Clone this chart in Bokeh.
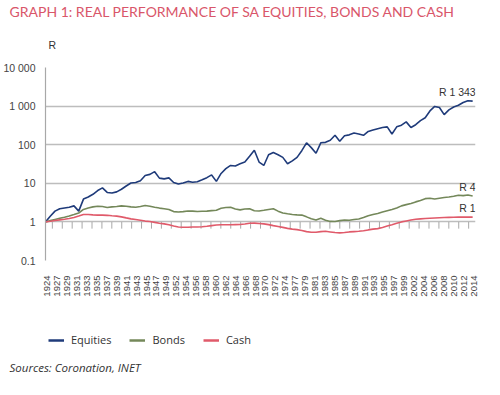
import math
from bokeh.plotting import figure
from bokeh.layouts import column
from bokeh.models import (Range1d, FixedTicker, Label, Legend, LegendItem, Title)
from bokeh.embed import file_html
from bokeh.resources import INLINE

years = list(range(1924, 2015))

equities = [1.0, 1.4, 1.9, 2.2, 2.3, 2.4, 2.6, 1.9, 3.9, 4.4,
            5.2, 6.5, 7.6, 5.8, 5.6, 6.0, 7.0, 8.5, 10.2, 10.5,
            11.7, 16.0, 17.0, 20.0, 13.6, 13.0, 13.8, 10.5, 9.6, 10.2,
            11.2, 10.6, 11.0, 12.4, 14.0, 16.5, 11.2, 18.0, 24.0, 29.0,
            28.0, 32.0, 35.5, 50.0, 72.0, 35.5, 29.0, 55.0, 63.0, 55.0,
            47.0, 32.0, 38.0, 47.0, 70.0, 112, 84, 60, 112, 115,
            130, 175, 123, 170, 180, 200, 190, 175, 220, 240,
            260, 280, 290, 190, 290, 320, 390, 280, 330, 420,
            500, 750, 980, 920, 600, 800, 950, 1050, 1240, 1380,
            1343]

bonds = [1.0, 1.08, 1.16, 1.24, 1.32, 1.42, 1.55, 1.7, 2.1, 2.3,
         2.45, 2.55, 2.5, 2.37, 2.45, 2.5, 2.6, 2.55, 2.45, 2.4,
         2.5, 2.66, 2.55, 2.4, 2.28, 2.2, 2.1, 1.85, 1.8, 1.85,
         1.92, 1.9, 1.86, 1.88, 1.9, 1.96, 2.0, 2.25, 2.35, 2.4,
         2.15, 2.05, 2.15, 2.2, 1.95, 1.92, 2.0, 2.1, 2.2, 1.9,
         1.7, 1.62, 1.55, 1.52, 1.5, 1.35, 1.2, 1.12, 1.24, 1.1,
         1.03, 1.02, 1.08, 1.12, 1.1, 1.15, 1.19, 1.3, 1.45, 1.55,
         1.65, 1.8, 1.95, 2.1, 2.3, 2.6, 2.8, 3.0, 3.3, 3.6,
         4.0, 4.1, 3.9, 4.1, 4.3, 4.4, 4.6, 4.9, 4.8, 5.0,
         4.7]

cash = [1.0, 1.04, 1.09, 1.13, 1.17, 1.22, 1.3, 1.42, 1.56, 1.55,
        1.52, 1.5, 1.5, 1.48, 1.44, 1.41, 1.35, 1.27, 1.2, 1.15,
        1.1, 1.05, 1.02, 0.97, 0.92, 0.89, 0.84, 0.78, 0.74, 0.73,
        0.73, 0.74, 0.74, 0.75, 0.77, 0.8, 0.83, 0.84, 0.84, 0.84,
        0.85, 0.86, 0.88, 0.92, 0.93, 0.91, 0.89, 0.85, 0.8, 0.76,
        0.72, 0.68, 0.65, 0.63, 0.6, 0.56, 0.54, 0.54, 0.56, 0.57,
        0.55, 0.53, 0.52, 0.53, 0.55, 0.56, 0.57, 0.59, 0.62, 0.65,
        0.67, 0.72, 0.78, 0.84, 0.92, 1.0, 1.06, 1.12, 1.17, 1.2,
        1.22, 1.24, 1.26, 1.28, 1.3, 1.31, 1.32, 1.33, 1.33, 1.33,
        1.33]

x_labels = ["1924", "1927", "1929", "1931", "1933", "1935", "1937", "1939", "1941", "1943",
            "1945", "1947", "1949", "1952", "1954", "1956", "1958", "1960", "1962", "1964",
            "1966", "1968", "1970", "1972", "1974", "1977", "1979", "1981", "1983", "1985",
            "1987", "1989", "1991", "1993", "1995", "1997", "1999", "2002", "2004", "2006",
            "2008", "2010", "2012", "2014"]

y_ticks = [0.1, 1, 10, 100, 1000, 10000]
y_labels = ["0.1", "1", "10", "100", "1 000", "10 000"]

series_names = ["Equities", "Bonds", "Cash"]
end_labels = ["R 1 343", "R 4", "R 1"]
colors = ["#1f3b7a", "#74885a", "#e05a6a"]

TITLE = "GRAPH 1: REAL PERFORMANCE OF SA EQUITIES, BONDS AND CASH"
UNIT = "R"
SOURCE = "Sources: Coronation, INET"
TXT_FONT = "Lato"
LEG_FONT = "Open Sans"
NUM_FONT = "Liberation Sans"

series = [equities, bonds, cash]

# ---------------- main chart ----------------
p = figure(width=484, height=320, y_axis_type="log",
           x_range=Range1d(1924, 2014.6), y_range=Range1d(0.1, 10000),
           output_backend="svg", toolbar_location=None,
           min_border_left=36, min_border_right=9, min_border_top=60, min_border_bottom=60)
p.outline_line_color = None
p.background_fill_color = "white"
p.border_fill_color = "white"

p.title.text = TITLE
p.title.align = "left"
p.title.offset = -36
p.title.standoff = 0
p.title.text_font = TXT_FONT
p.title.text_font_size = "14px"
p.title.text_font_style = "normal"
p.title.text_color = "#d9566a"

p.add_layout(Title(text=UNIT, align="left", offset=3, standoff=34,
                   text_font=NUM_FONT, text_font_size="10.5px",
                   text_font_style="normal", text_color="#333333"), "above")

n = len(x_labels)
lo, hi = 1924.4, 2014.2
step = (hi - lo) / (n - 1)
label_pos = [round(lo + i * step, 4) for i in range(n)]
p.xaxis.ticker = FixedTicker(ticks=label_pos, minor_ticks=[])
p.xaxis.major_label_overrides = {pos: lab for pos, lab in zip(label_pos, x_labels)}
p.xaxis.major_label_orientation = math.pi / 2
p.xaxis.major_tick_line_color = None
p.xaxis.major_tick_out = 0
p.xaxis.major_tick_in = 0
p.xaxis.minor_tick_line_color = None
p.xaxis.axis_line_color = None
p.xaxis.major_label_standoff = 15
p.xaxis.major_label_text_font = NUM_FONT
p.xaxis.major_label_text_font_size = "9.5px"
p.xaxis.major_label_text_color = "#444444"

p.yaxis.ticker = FixedTicker(ticks=y_ticks, minor_ticks=[])
p.yaxis.major_label_overrides = {t: l for t, l in zip(y_ticks, y_labels)}
p.yaxis.major_tick_line_color = None
p.yaxis.minor_tick_line_color = None
p.yaxis.axis_line_color = "#a8a8a8"
p.yaxis.axis_line_width = 1.2
p.yaxis.major_label_standoff = 4
p.yaxis.major_label_text_font = NUM_FONT
p.yaxis.major_label_text_font_size = "10.5px"
p.yaxis.major_label_text_color = "#444444"

p.xgrid.grid_line_color = None
p.ygrid.grid_line_color = "#bdbdbd"
p.ygrid.grid_line_width = 1.3

tick_x = [pos + step / 2 for pos in label_pos[:-1]]
tick_len = 10 ** (-7 / 40)
p.segment(x0=tick_x, x1=tick_x, y0=[1] * len(tick_x), y1=[tick_len] * len(tick_x),
          line_color="#a8a8a8", line_width=1)

for vals, col in zip(series, colors):
    p.line(years, vals, line_color=col, line_width=1.6)

for vals, lab in zip(series, end_labels):
    p.add_layout(Label(x=years[-1], y=vals[-1], text=lab, text_align="right",
                       text_baseline="bottom", x_offset=3, y_offset=3,
                       text_font=NUM_FONT, text_font_size="10.5px", text_color="#333333"))

# ---------------- legend + source strip ----------------
q = figure(width=484, height=59, x_range=Range1d(0, 1), y_range=Range1d(0, 1),
           x_axis_location=None, y_axis_location=None,
           title=SOURCE, title_location="below",
           output_backend="svg", toolbar_location=None,
           min_border_left=36, min_border_right=9, min_border_top=0, min_border_bottom=22)
q.grid.visible = False
q.outline_line_color = None
q.border_fill_color = "white"
q.title.align = "left"
q.title.offset = -36
q.title.standoff = 0
q.title.text_font = LEG_FONT
q.title.text_font_size = "11.5px"
q.title.text_font_style = "italic"
q.title.text_color = "#333333"

legend_rs = []
for vals, col in zip(series, colors):
    legend_rs.append(q.line(years, vals, line_color=col, line_width=2.5))

legend = Legend(items=[LegendItem(label=nm, renderers=[r]) for nm, r in zip(series_names, legend_rs)],
                orientation="horizontal", location=(3, 10),
                border_line_color=None, background_fill_alpha=0,
                label_text_font=LEG_FONT, label_text_font_size="11px", label_text_color="#333333",
                label_height=14, glyph_width=16, glyph_height=12, label_standoff=7, spacing=18,
                padding=0, margin=0)
q.add_layout(legend, "center")

layout = column(p, q, spacing=0)
open("out.html", "w").write(file_html(layout, INLINE))
